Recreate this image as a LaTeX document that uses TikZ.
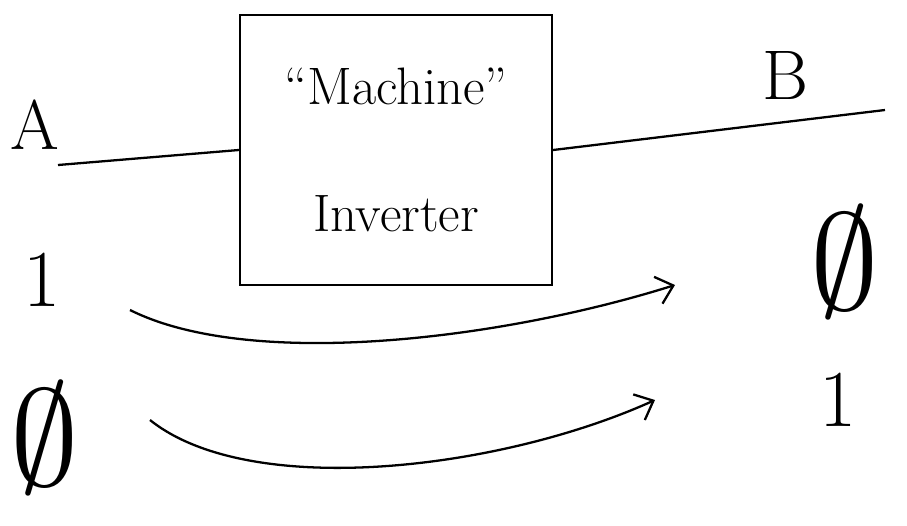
\documentclass[tikz,border=0pt]{standalone}
\usetikzlibrary{arrows.meta}
\begin{document}
\begin{tikzpicture}[x=0.02cm, y=-0.02cm,
        wire/.style={line width=1.3pt},
        letter/.style={font=\fontsize{40}{40}\selectfont},
        bit/.style={font=\fontsize{46}{46}\selectfont},
        nilbit/.style={scale=7.8},
        machinebox/.style={draw, line width=1.3pt, minimum width=6.24cm, minimum height=5.4cm,
            align=center, font=\fontsize{30}{30}\selectfont},
        map/.style={line width=1.3pt, -{Straight Barb[length=9pt, width=16pt, line width=1.3pt]}}
    ]
        \useasboundingbox (0,0) rectangle (907,525);

        % Machine and its wires
        \node[machinebox] (machine) at (396,150) {``Machine''\\[1.5cm]Inverter};
        \node[letter] (a) at (35,125) {A};
        \node[letter] (b) at (785,75) {B};
        \coordinate (in) at (58,165);
        \coordinate (out) at (885,110);
        \draw[wire] (in) -- (machine.west);
        \draw[wire] (machine.east) -- (out);

        % Truth table
        \node[bit] (oneL) at (42,280) {1};
        \node[nilbit] (zeroL) at (45,438) {$\emptyset$};
        \node[nilbit] (zeroR) at (845,262) {$\emptyset$};
        \node[bit] (oneR) at (838,400) {1};

        \coordinate (s1) at (130,310);
        \coordinate (e1) at (675,285);
        \coordinate (s2) at (150,420);
        \coordinate (e2) at (655,400);
        \draw[map] (s1) .. controls (250,370) and (500,340) .. (e1);
        \draw[map] (s2) .. controls (250,500) and (500,470) .. (e2);
    \end{tikzpicture}
\end{document}
